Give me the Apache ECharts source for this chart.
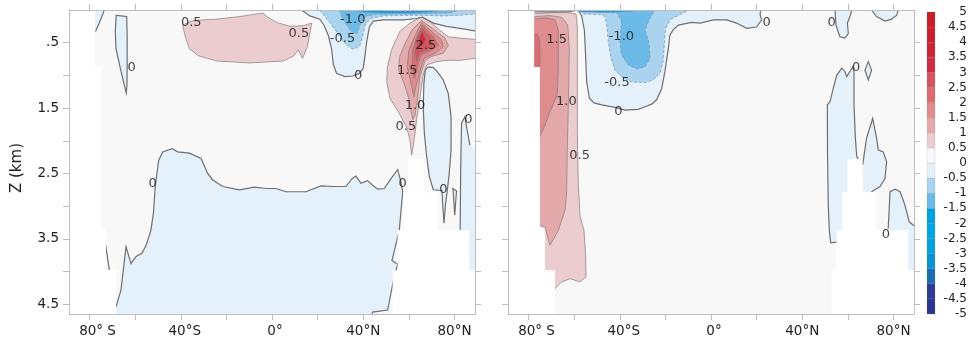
<!DOCTYPE html>
<html><head><meta charset="utf-8">
<script src="https://cdn.jsdelivr.net/npm/echarts@6/dist/echarts.min.js"></script>
<style>html,body{margin:0;padding:0;background:#fff}#c{width:970px;height:345px}</style>
</head><body><div id="c"></div>
<script>
// ---------- axes ----------
const latTicks = [-80,-60,-40,-20,0,20,40,60,80];
const latLabels = [-80,-40,0,40,80];
const latLabelText = {'-80':'{p16|80° S}','-40':'{p8|40°S}','0':'{p6|0°}','40':'40°N','80':'80°N'};
const depthTicks = [0.5,1,1.5,2,2.5,3,3.5,4,4.5];
const depthLabels = [0.5,1.5,2.5,3.5,4.5];
const depthLabelText = {'0.5':'.5','1.5':'1.5','2.5':'2.5','3.5':'3.5','4.5':'4.5'};
const cbarMin = -5, cbarMax = 5, cbarStep = 0.5;
// colour of each 0.5 bin, from -5 (bottom) to 5 (top)
const binColors = ['#2d3590','#2e3b96','#1d6db4','#0a93d1','#05a0dc','#01a5e2','#00a0e1','#6bbae8','#a9d3ef','#e4f1fb',
                   '#f8f8f8','#eccdcf','#e4a9ab','#de8c8d','#da6d70','#d5555e','#cf2c46','#cc2536','#ca202d','#c81f29'];

// ---------- panel (a) contours: [latitude, depth km] ----------
const a_blueTop = [[13.0,0],[16.6,0.09],[21.0,0.14],[22.9,0.24],[24.7,0.39],[26.1,0.59],[26.9,0.83],[28.3,0.97],[32.0,1.02],[35.4,1.01],[38.3,0.97],[40.0,0.89],[40.8,0.69],[41.5,0.49],[42.7,0.26],[44.4,0.17],[48.8,0.15],[57.6,0.15],[63.4,0.13],[66.0,0.11],[70.7,0.2],[76.5,0.25],[83.9,0.29],[89,0.32]];
const a_blueTopE = [[89,0]];
const a_blue05 = [[20.7,0],[23.2,0.1],[26.1,0.23],[28.3,0.33],[30.5,0.46],[33.5,0.56],[35.6,0.6],[38.3,0.56],[39.7,0.41],[40.8,0.23],[43.0,0.13],[48.8,0.09],[56.1,0.085],[64.9,0.08],[75.1,0.09],[82.4,0.08],[89,0.06]];
const a_blue05E = [[89,0]];
const a_blue10 = [[29.5,0],[30.5,0.1],[32.7,0.23],[35.4,0.36],[37.4,0.35],[38.6,0.23],[40.3,0.1],[45.9,0.065],[63.4,0.06],[78.0,0.045],[82.4,0]];
const a_blue15 = [[35,0],[40,0.03],[48,0.045],[60,0.05],[68,0.035],[76,0]];
const a_blue30 = [[47,0],[52,0.02],[62,0.025],[68,0]];
const a_pink05 = [[-39.2,0.23],[-34.5,0.16],[-24.3,0.14],[-14.0,0.1],[-6.7,0.06],[-3.8,0.05],[-2.3,0.1],[2.0,0.19],[7.9,0.25],[13.7,0.24],[17.4,0.2],[16.6,0.36],[15.5,0.56],[13.4,0.74],[11.5,0.61],[9.6,0.7],[5.0,0.78],[-9.6,0.81],[-24.3,0.78],[-32.3,0.7],[-36.3,0.59],[-38.2,0.38]];
const a_sl1 = [[-73.5,0],[-75.5,0.18],[-77.4,0.33]];
const a_sl1E = [[-77.6,0.33],[-77.6,0]];
const a_sl2 = [[-68.3,0.08],[-63.7,0.1],[-63.5,0.4],[-63.5,0.9],[-63.6,1.15],[-63.9,1.27],[-64.4,1.2],[-66.2,0.94],[-68.4,0.59],[-68.7,0.33]];
const a_deep = [[-68.4,4.54],[-66.2,4.28],[-64.0,3.62],[-61.8,3.88],[-59.6,3.77],[-57.0,3.72],[-55.2,3.6],[-53.1,3.37],[-52.0,3.11],[-51.2,2.7],[-49.7,2.3],[-47.9,2.17],[-43.8,2.12],[-41.4,2.17],[-36.2,2.19],[-31.1,2.27],[-28.2,2.5],[-26.0,2.6],[-21.6,2.7],[-14.3,2.75],[-7.8,2.71],[-2.6,2.73],[1.7,2.73],[6.1,2.78],[14.9,2.78],[21.5,2.69],[26.6,2.7],[32.4,2.7],[35.1,2.58],[36.8,2.54],[39.0,2.65],[41.9,2.61],[44.1,2.68],[46.3,2.74],[49.2,2.73],[52.2,2.58],[55.1,2.44],[56.5,2.63],[57.3,2.78],[55.8,3.37],[52.6,3.83],[55.1,3.89],[53.6,4.08],[50.7,4.59],[44.1,4.62],[43.8,4.65]];
const a_deepE = [[-68.4,4.65]];
const a_frag = [[-74.5,3.67],[-73.1,3.56],[-71.3,3.98]];
const a_tongue = [[68.5,0.87],[70.7,0.88],[72.2,0.93],[75.1,1.07],[77.3,1.28],[78.5,1.63],[78.5,2.14],[77.7,2.5],[76.9,2.75],[76.1,2.96],[75.4,3.26],[74.8,2.96],[74.5,2.76],[70.7,2.75],[69.0,2.55],[67.8,2.24],[66.8,1.89],[66.3,1.48],[66.6,1.12],[67.2,0.92]];
const a_sl3 = [[79.3,2.73],[80.9,2.77],[80.1,3.14],[79.5,2.8]];
const a_right = [[82.5,3.37],[82.7,2.5],[83.1,1.73],[84.6,1.63],[85.3,1.79],[86.8,2.07]];
const a_rightE = [[89,2.15],[89,4.05],[82.5,4.05]];
const a_red05 = [[89,0.74],[82.4,0.77],[76.6,0.77],[72.2,0.79],[67.8,0.84],[66.3,1.0],[65.2,1.27],[64.1,1.53],[63.4,1.68],[62.7,1.89],[61.9,2.09],[61.2,2.22],[60.5,1.99],[59.0,1.79],[55.4,1.56],[51.7,1.35],[50.3,1.1],[50.6,0.87],[52.5,0.6],[56.0,0.33],[60.5,0.2],[64.5,0.12],[65.8,0.11],[69.3,0.18],[73.6,0.31],[77.3,0.41],[82.4,0.43],[89,0.45]];
const a_red10 = [[65.6,0.16],[72.2,0.33],[75.8,0.43],[77.3,0.54],[75.1,0.66],[70.0,0.71],[67.1,0.77],[64.9,1.02],[63.7,1.38],[62.7,1.61],[61.7,1.68],[60.2,1.38],[57.9,1.12],[55.5,0.92],[56.0,0.71],[58.5,0.5],[61.5,0.3]];
const a_red15 = [[65.6,0.19],[70.0,0.33],[74.4,0.46],[75.1,0.56],[71.5,0.66],[66.6,0.74],[64.6,0.97],[63.1,1.17],[62.2,1.33],[60.8,1.1],[59.3,0.87],[60.0,0.61],[62.5,0.41]];
const a_red20 = [[65.9,0.23],[71.0,0.42],[72.9,0.54],[70.0,0.61],[65.2,0.69],[63.7,0.87],[62.4,1.05],[61.5,0.87],[61.7,0.61],[63.5,0.41]];
const a_red25 = [[66.0,0.28],[69.6,0.42],[70.4,0.55],[67.5,0.61],[64.6,0.67],[63.4,0.79],[62.8,0.69],[63.2,0.49],[64.6,0.36]];
const a_red30 = [[65.8,0.33],[67.5,0.45],[65.8,0.56],[64.3,0.54],[64.6,0.41]];
const a_labels = [[-35.4,0.2,'0.5'],[11.8,0.36,'0.5'],[35.4,0.15,'-1.0'],[30.9,0.44,'-0.5'],[37.8,1.0,'0'],[67.5,0.55,'2.5'],[59.3,0.92,'1.5'],[62.7,1.46,'1.0'],[58.7,1.79,'0.5'],[86.1,1.68,'0'],[-61.5,0.88,'0'],[-52.3,2.65,'0'],[57.3,2.65,'0'],[75.1,2.74,'0']];

// ---------- panel (b) contours ----------
const b_red05 = [[-77.5,0.06],[-70.6,0.04],[-63.3,0.04],[-59.2,0.06],[-58.6,0.25],[-58.6,1.0],[-58.6,1.63],[-58.5,2.14],[-58.2,2.65],[-57.4,3.16],[-55.7,3.37],[-55.0,3.72],[-54.8,4.08],[-57.4,4.16],[-61.8,4.11],[-65.5,4.16],[-68.4,4.26],[-69.1,4.36]];
const b_red05E = [[-69.1,4.65],[-77.5,4.65]];
const b_red10 = [[-77.5,0.1],[-70.6,0.085],[-65.5,0.11],[-62.8,0.23],[-62.1,0.61],[-62.5,1.38],[-63.0,2.14],[-63.3,2.8],[-64.0,3.06],[-66.9,3.37],[-70.6,3.6],[-72.8,3.32],[-75.0,3.29]];
const b_red10E = [[-77.5,3.6]];
const b_red15 = [[-77.5,0.13],[-72.0,0.12],[-68.4,0.15],[-66.9,0.31],[-66.9,0.87],[-67.4,1.28],[-68.4,1.38],[-70.6,1.56],[-72.8,1.76],[-75.0,1.94]];
const b_red15E = [[-77.5,1.94]];
const b_red20 = [[-77.5,0.37],[-76.2,0.37],[-75.2,0.45],[-75.0,0.6],[-75.0,0.87]];
const b_red20E = [[-77.5,0.87]];
const b_top0 = [[-77.5,0.03],[-70,0.03],[-62,0.025],[-58.2,0]];
const b_blue0 = [[-58.2,0],[-56.7,0.09],[-55.5,0.31],[-55.0,0.69],[-54.5,1.1],[-53.3,1.35],[-51.3,1.42],[-47.9,1.45],[-42.1,1.49],[-37.7,1.53],[-31.9,1.52],[-28.9,1.48],[-26.0,1.44],[-23.8,1.37],[-21.6,1.2],[-20.2,0.94],[-18.7,0.59],[-18.0,0.38],[-16.5,0.3],[-14.3,0.23],[-8.5,0.19],[-4.8,0.2],[1.0,0.15],[6.9,0.15],[11.2,0.2],[15.6,0.28],[20.0,0.26],[22.2,0.15],[21.5,0.07],[21.8,0]];
const b_blue05 = [[-57.5,0],[-56,0.06],[-48,0.07],[-46.5,0.1],[-45.7,0.23],[-45.0,0.49],[-43.8,0.74],[-42.1,0.92],[-39.2,1.02],[-34.8,1.1],[-28.9,1.11],[-25.3,1.07],[-22.4,0.97],[-21.0,0.79],[-20.5,0.54],[-20.0,0.3],[-18.0,0.15],[-13,0.06],[-10,0]];
const b_blue10 = [[-57,0],[-50,0.035],[-41,0.045],[-39.2,0.18],[-39.9,0.49],[-39.2,0.69],[-36.3,0.84],[-32.6,0.9],[-28.9,0.87],[-26.7,0.74],[-27.2,0.49],[-28.9,0.31],[-27.5,0.18],[-26.0,0.08],[-24.6,0]];
const b_blue15 = [[-59.6,0],[-57.4,0.03],[-48.7,0.035],[-41.4,0.03],[-34.1,0.02],[-32.6,0]];
const b_blobA = [[54.4,0],[54.8,0.23],[56.5,0.41],[58.7,0.43],[60.2,0.36],[59.8,0.2],[60.9,0.1],[61.7,0]];
const b_blobB = [[70.4,0],[72.6,0.1],[76.3,0.17],[79.2,0.14],[81.4,0.08],[82.1,0]];
const b_reg1 = [[55.1,3.55],[52.5,3.56],[51.9,3.39],[51.4,2.98],[51.1,2.22],[51.0,1.45],[52.2,1.4],[53.6,1.2],[55.1,1.0],[57.3,0.89],[58.7,0.94],[59.5,1.02],[60.9,0.94],[62.1,0.87],[62.7,0.94],[62.7,1.45],[63.3,1.96],[63.9,2.24],[65.3,2.32]];
const b_reg1E = [[66,2.6],[57,3.5]];
const b_reg2 = [[66.5,2.37],[68.2,1.96],[70.9,1.66],[72.6,1.96],[73.3,2.14],[75.5,2.17],[77.0,2.32],[76.3,2.58],[74.1,2.7],[70.4,2.78]];
const b_reg2E = [[66.8,2.78]];
const b_reg3 = [[77.7,3.34],[78.5,2.78],[80.7,2.74],[82.9,2.78],[85.0,2.98],[86.9,3.24],[89,3.3]];
const b_reg3E = [[89,4.0],[77.7,4.0]];
const b_diamond = [[68.96,0.79],[70.4,0.92],[68.96,1.07],[67.5,0.92]];
const b_labels = [[-67.7,0.45,'1.5'],[-63.4,1.4,'1.0'],[-57.6,2.23,'0.5'],[-39.3,0.4,'-1.0'],[-41.2,1.11,'-0.5'],[-40.6,1.55,'0'],[24.4,0.2,'0'],[52.9,0.19,'0'],[63.6,0.88,'0'],[76.7,3.44,'0']];

// ---------- land / sea floor (no data), same for both panels ----------
const maskLeft = [[-89,0],[-77.55,0],[-77.55,0.87],[-75.0,0.87],[-75.0,3.33],[-72.8,3.33],[-72.8,3.98],[-68.4,3.98],[-68.4,4.65],[-89,4.65]];
const maskRight = [[59.9,2.28],[66.4,2.28],[66.4,2.79],[72.6,2.79],[72.6,3.37],[86.5,3.37],[86.5,3.98],[89,3.98],[89,4.65],[52.9,4.65],[52.9,3.98],[55.1,3.98],[55.1,3.37],[57.5,3.37],[57.5,2.79],[59.9,2.79]];

// contour level of each shape; e === null -> closed contour
const shapesA = [
  {p:a_blueTop,e:a_blueTopE,lv:0},{p:a_blue05,e:a_blue05E,lv:-0.5},{p:a_blue10,e:[],lv:-1.0},
  {p:a_blue15,e:[],lv:-1.5},{p:a_blue30,e:[],lv:-3.0},
  {p:a_pink05,e:null,lv:0.5},{p:a_sl1,e:a_sl1E,lv:0},{p:a_sl2,e:null,lv:0},
  {p:a_deep,e:a_deepE,lv:0},{p:a_tongue,e:null,lv:0},{p:a_sl3,e:null,lv:0},{p:a_right,e:a_rightE,lv:0},
  {p:a_red05,e:[],lv:0.5},{p:a_red10,e:null,lv:1.0},{p:a_red15,e:null,lv:1.5},
  {p:a_red20,e:null,lv:2.0},{p:a_red25,e:null,lv:2.5},{p:a_red30,e:null,lv:3.0},
  {p:a_frag,e:[],lv:0,noFill:true}
];
const shapesB = [
  {p:b_red05,e:b_red05E,lv:0.5},{p:b_red10,e:b_red10E,lv:1.0},{p:b_red15,e:b_red15E,lv:1.5},{p:b_red20,e:b_red20E,lv:2.0},
  {p:b_top0,e:[],lv:0,noFill:true},
  {p:b_blue0,e:[],lv:0},{p:b_blue05,e:[],lv:-0.5},{p:b_blue10,e:[],lv:-1.0},{p:b_blue15,e:[],lv:-1.5},
  {p:b_blobA,e:[],lv:0},{p:b_blobB,e:[],lv:0},
  {p:b_reg1,e:b_reg1E,lv:0},{p:b_reg2,e:b_reg2E,lv:0},{p:b_reg3,e:b_reg3E,lv:0},{p:b_diamond,e:null,lv:0}
];
const masks = [maskLeft, maskRight];

function fillColor(lv){
  const lo = lv > 0 ? lv : lv - 0.5;
  return binColors[Math.round((lo - cbarMin)/cbarStep)];
}
function lineStyle(lv){
  if (lv === 0) return {stroke:'#6f6f6f', lineWidth:1.2};
  if (lv > 0) return {stroke:'#877a7a', lineWidth:0.7};
  return {stroke:'#7f9cb3', lineWidth:0.8, lineDash:[3,2]};
}
const FONT = 'DejaVu Sans';

function fillSeries(shapes, xi, yi){
  return {type:'custom', coordinateSystem:'cartesian2d', xAxisIndex:xi, yAxisIndex:yi, clip:true, silent:true, z:2,
    data: shapes.map((s,i)=>[0,0,i]),
    renderItem(params, api){
      const s = shapes[api.value(2)];
      if (s.noFill) return {type:'group', children:[]};
      const pts = s.p.concat(s.e || []).map(q=>api.coord(q));
      return {type:'polygon', shape:{points:pts}, style:{fill:fillColor(s.lv), stroke:null}};
    }};
}
function lineSeries(shapes, xi, yi){
  return {type:'custom', coordinateSystem:'cartesian2d', xAxisIndex:xi, yAxisIndex:yi, clip:true, silent:true, z:3,
    data: shapes.map((s,i)=>[0,0,i]),
    renderItem(params, api){
      const s = shapes[api.value(2)];
      const pts = s.p.map(q=>api.coord(q));
      const st = Object.assign({fill:'none'}, lineStyle(s.lv));
      return {type: s.e === null ? 'polygon' : 'polyline', shape:{points:pts}, style:st};
    }};
}
function maskSeries(xi, yi){
  return {type:'custom', coordinateSystem:'cartesian2d', xAxisIndex:xi, yAxisIndex:yi, clip:true, silent:true, z:4,
    data: masks.map((m,i)=>[0,0,i]),
    renderItem(params, api){
      const pts = masks[api.value(2)].map(q=>api.coord(q));
      return {type:'polygon', shape:{points:pts}, style:{fill:'#ffffff', stroke:null}};
    }};
}
function labelSeries(labels, xi, yi){
  return {type:'scatter', xAxisIndex:xi, yAxisIndex:yi, symbolSize:0, silent:true, z:5,
    data: labels.map(l=>({value:[l[0],l[1]], name:l[2]})),
    label:{show:true, position:'inside', formatter:'{b}', fontSize:13, fontFamily:FONT, color:'#111'}};
}

const axCol = '#bdbdbd';
const richX = {p16:{padding:[0,0,0,16],fontSize:13.5,fontFamily:FONT,color:'#222'},
               p8:{padding:[0,0,0,8],fontSize:13.5,fontFamily:FONT,color:'#222'},
               p6:{padding:[0,0,0,6],fontSize:13.5,fontFamily:FONT,color:'#222'}};
function xAx(grid, pos, showLabel){
  return {type:'value', gridIndex:grid, position:pos, min:-89, max:89, z:6,
    axisLine:{show:true, onZero:false, lineStyle:{color:axCol, width:1}},
    axisTick:{show:true, inside:false, length:6, customValues:latTicks, lineStyle:{color:axCol}},
    axisLabel:{show:showLabel, customValues:latLabels, formatter:v=>latLabelText[String(v)], margin:10,
      fontSize:13.5, fontFamily:FONT, color:'#222', rich:richX},
    splitLine:{show:false}};
}
function yAx(grid, pos, showLabel){
  return {type:'value', gridIndex:grid, position:pos, min:0, max:4.65, inverse:true, z:6,
    axisLine:{show:true, onZero:false, lineStyle:{color:axCol, width:1}},
    axisTick:{show:true, inside:false, length:6, customValues:depthTicks, lineStyle:{color:axCol}},
    axisLabel:{show:showLabel, customValues:depthLabels, formatter:v=>depthLabelText[String(v)], margin:10,
      fontSize:13.5, fontFamily:FONT, color:'#222'},
    splitLine:{show:false}};
}

const option = {
  backgroundColor:'#ffffff',
  animation:false,
  grid:[
    {left:69, top:10, width:406, height:304, show:true, backgroundColor:binColors[10], borderWidth:0},
    {left:508, top:10, width:406, height:304, show:true, backgroundColor:binColors[10], borderWidth:0},
    {left:927, top:12, width:14, height:302, show:false}
  ],
  xAxis:[ xAx(0,'bottom',true), xAx(0,'top',false), xAx(1,'bottom',true), xAx(1,'top',false),
    {type:'value', gridIndex:2, min:0, max:1, show:false} ],
  yAxis:[ yAx(0,'left',true), yAx(0,'right',false), yAx(1,'left',false), yAx(1,'right',false),
    {type:'value', gridIndex:2, position:'right', min:cbarMin, max:cbarMax, interval:cbarStep,
     axisLine:{show:false}, axisTick:{show:false}, splitLine:{show:false},
     axisLabel:{show:true, align:'right', margin:32, formatter:v=>String(v), fontSize:12, fontFamily:FONT, color:'#222'}} ],
  graphic:[
    {type:'text', x:17, y:168, rotation:Math.PI/2, style:{text:'Z (km)', font:'15px "DejaVu Sans"', fill:'#222', align:'center', verticalAlign:'middle'}},
    {type:'text', x:457, y:296, style:{text:'(a)', font:'16px "DejaVu Sans"', fill:'#222', align:'center', verticalAlign:'middle'}},
    {type:'text', x:897, y:296, style:{text:'(b)', font:'16px "DejaVu Sans"', fill:'#222', align:'center', verticalAlign:'middle'}}
  ],
  series:[
    fillSeries(shapesA,0,0), lineSeries(shapesA,0,0), maskSeries(0,0), labelSeries(a_labels,0,0),
    fillSeries(shapesB,2,2), lineSeries(shapesB,2,2), maskSeries(2,2), labelSeries(b_labels,2,2),
    {type:'custom', coordinateSystem:'cartesian2d', xAxisIndex:4, yAxisIndex:4, silent:true,
     data: binColors.map((c,i)=>[0, cbarMin + i*cbarStep, i]),
     renderItem(params, api){
       const i = api.value(2);
       const lo = cbarMin + i*cbarStep;
       const p0 = api.coord([0, lo]), p1 = api.coord([1, lo + cbarStep]);
       return {type:'rect', shape:{x:p0[0], y:p1[1], width:p1[0]-p0[0], height:p0[1]-p1[1]},
               style:{fill:binColors[i], stroke:'rgba(110,110,110,0.22)', lineWidth:0.6}};
     }}
  ]
};
const chart = echarts.init(document.getElementById('c'), null, {renderer:'canvas'});
chart.setOption(option);
</script></body></html>
